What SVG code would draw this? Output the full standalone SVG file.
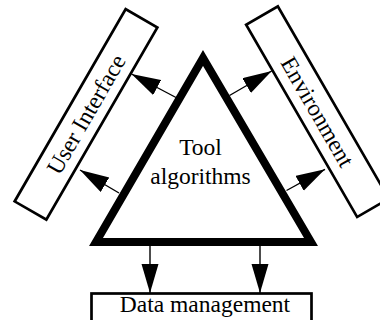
<svg xmlns="http://www.w3.org/2000/svg" width="380" height="320" viewBox="0 0 380 320">
<style>
.box{fill:#fff;stroke:#000;stroke-width:2.7}
.tri{fill:none;stroke:#000;stroke-width:8;stroke-linejoin:miter;stroke-miterlimit:10}
.lbl{font-family:"Liberation Serif","Times New Roman",serif;font-size:23.5px;fill:#000;text-anchor:middle}
.conn{stroke:#000;stroke-width:1.4;fill:none;marker-end:url(#ah)}
</style>
<defs>
<marker id="ah" markerUnits="userSpaceOnUse" markerWidth="30" markerHeight="18" refX="29" refY="8.5" orient="auto">
<path d="M0,0 L29,8.5 L0,17 z" fill="#000"/>
</marker>
</defs>
<rect width="380" height="320" fill="#fff"/>
<g id="connectors">
<line class="conn" x1="176" y1="97.5" x2="131.5" y2="74"/>
<line class="conn" x1="119" y1="193" x2="80" y2="170"/>
<line class="conn" x1="229.5" y1="95.5" x2="271.7" y2="71"/>
<line class="conn" x1="286.5" y1="190.5" x2="325" y2="169.3"/>
<line class="conn" x1="150" y1="245" x2="150" y2="293"/>
<line class="conn" x1="260" y1="245" x2="260" y2="293"/>
</g>
<g id="tool-algorithms">
<polygon class="tri" points="203,58 96,242 311,242"/>
<text class="lbl" x="200.5" y="155">Tool</text>
<text class="lbl" x="200.5" y="183.5">algorithms</text>
</g>
<g id="user-interface" transform="translate(86,114.4) rotate(-60)">
<rect class="box" x="-111" y="-18.3" width="222" height="36.6"/>
<text class="lbl" x="0" y="8">User Interface</text>
</g>
<g id="environment" transform="translate(317.5,111.7) rotate(60)">
<rect class="box" x="-111" y="-18.3" width="222" height="36.6"/>
<text class="lbl" x="0" y="8">Environment</text>
</g>
<g id="data-management">
<rect class="box" x="91.5" y="293.5" width="220" height="40"/>
<text class="lbl" x="205" y="311.5">Data management</text>
</g>
</svg>
